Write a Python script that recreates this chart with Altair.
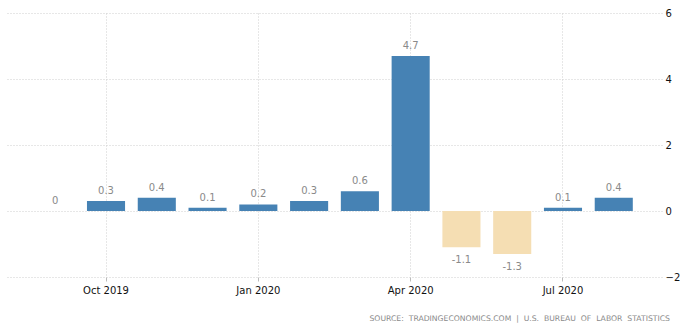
import altair as alt
import pandas as pd

months = ["Sep 2019", "Oct 2019", "Nov 2019", "Dec 2019", "Jan 2020", "Feb 2020",
          "Mar 2020", "Apr 2020", "May 2020", "Jun 2020", "Jul 2020", "Aug 2020"]
values = [0.0, 0.3, 0.4, 0.1, 0.2, 0.3, 0.6, 4.7, -1.1, -1.3, 0.1, 0.4]
tick_months = ["Oct 2019", "Jan 2020", "Apr 2020", "Jul 2020"]
y_ticks = [-2, 0, 2, 4, 6]
source_words = ["SOURCE:", "TRADINGECONOMICS.COM", "|", "U.S.", "BUREAU", "OF", "LABOR", "STATISTICS"]
source = "\u00a0\u00a0".join(source_words)

df = pd.DataFrame({"month": months, "value": values})
df["label"] = df["value"].map(lambda v: "0" if v == 0 else f"{v:g}")
df["sign"] = df["value"].map(lambda v: "neg" if v < 0 else "pos")

FONT = "DejaVu Sans"
GRID = "#cfcfcf"

x = alt.X("month:N", sort=months,
          scale=alt.Scale(paddingInner=0.25, paddingOuter=0.575),
          axis=alt.Axis(values=tick_months, title=None, labelAngle=0,
                        labelFont=FONT, labelFontSize=10, labelColor="#111",
                        labelPadding=4, grid=True, gridColor=GRID, gridDash=[1, 2],
                        bandPosition=0.5, domain=False, tickColor="#bbb", tickSize=4))
y = alt.Y("value:Q",
          scale=alt.Scale(domain=[-2, 6], nice=False),
          axis=alt.Axis(values=y_ticks, orient="right", title=None,
                        labelFont=FONT, labelFontSize=10, labelColor="#111",
                        labelPadding=3, grid=True, gridColor=GRID, gridDash=[1, 2],
                        domain=False, ticks=False))

base = alt.Chart(df)

bars = base.mark_bar().encode(
    x=x, y=y,
    color=alt.Color("sign:N", scale=alt.Scale(domain=["pos", "neg"], range=["#4682b4", "#f5deb3"]),
                    legend=None),
)

pos_text = base.transform_filter("datum.value >= 0").mark_text(
    baseline="bottom", dy=-5, font=FONT, fontSize=10, color="#8a8a8a"
).encode(x=alt.X("month:N", sort=months), y="value:Q", text="label:N")

neg_text = base.transform_filter("datum.value < 0").mark_text(
    baseline="top", dy=8, font=FONT, fontSize=10, color="#8a8a8a"
).encode(x=alt.X("month:N", sort=months), y="value:Q", text="label:N")

src = alt.Chart(pd.DataFrame({"t": [source]})).mark_text(
    align="right", baseline="middle", font=FONT, fontSize=7.7, color="#8a8a8a"
).encode(x=alt.value(663), y=alt.value(306), text="t:N")

chart = alt.layer(bars, pos_text, neg_text, src).properties(
    width=655, height=264,
    background="white",
    autosize=alt.AutoSizeParams(type="none"),
    padding={"left": 7, "top": 13, "right": 23, "bottom": 54},
).configure_view(stroke=None)

chart.save("out.html", embed_options={"renderer": "svg", "actions": False})
